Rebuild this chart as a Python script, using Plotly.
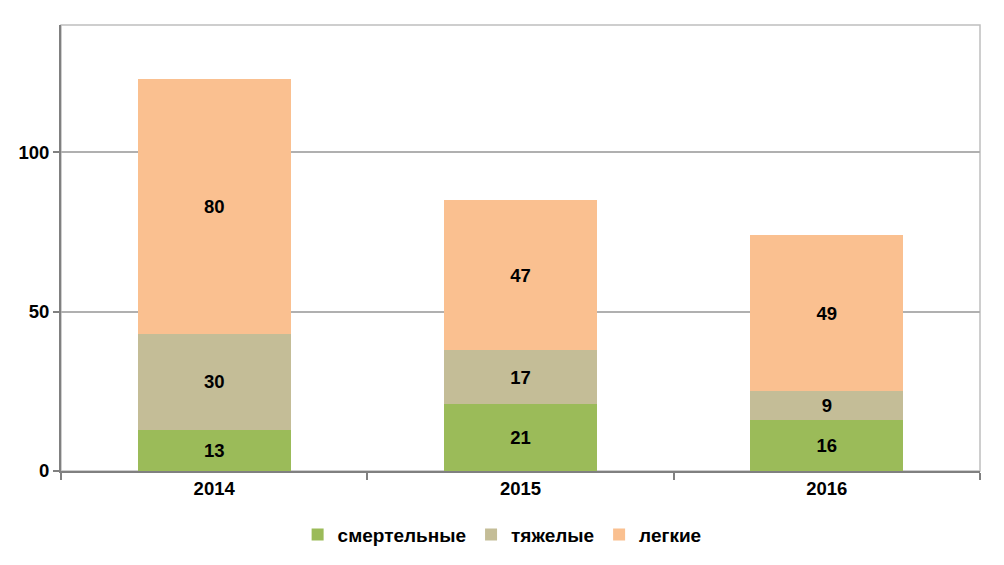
import plotly.graph_objects as go

years = ["2014", "2015", "2016"]
fatal = [13, 21, 16]
severe = [30, 17, 9]
light = [80, 47, 49]

series = [
    ("смертельные", fatal, "#9BBB59"),
    ("тяжелые", severe, "#C4BD97"),
    ("легкие", light, "#FAC090"),
]

bold = dict(family="Liberation Sans", size=18.5, color="#000000", weight="bold")

fig = go.Figure()
for name, vals, color in series:
    fig.add_trace(go.Bar(
        x=years, y=vals, name=name,
        marker=dict(color=color, line=dict(width=0)),
        text=vals, textposition="inside", insidetextanchor="middle",
        textfont=bold, textangle=0,
    ))

# page body has an 8px margin, so the figure is a bit smaller and shifted
fig.update_layout(
    barmode="stack",
    bargap=0.5,
    width=996, height=557,
    margin=dict(l=53, r=24, t=17, b=91),
    plot_bgcolor="white",
    paper_bgcolor="white",
    font=bold,
    legend=dict(
        orientation="h", x=0.48, xanchor="center", y=-0.1425, yanchor="middle",
        font=dict(family="Liberation Sans", size=19, color="#000000", weight="bold"),
        traceorder="normal", itemwidth=30,
    ),
    shapes=[dict(
        type="rect", xref="paper", yref="paper", x0=0, x1=1, y0=0, y1=1,
        line=dict(color="#BFBFBF", width=1.5), layer="below",
    )],
)

fig.update_xaxes(
    automargin=False,
    showline=True, linecolor="#808080", linewidth=2,
    ticks="outside", tickson="boundaries", ticklen=7, tickcolor="#808080",
    tickwidth=2, showgrid=False, tickfont=bold,
)
fig.update_yaxes(
    automargin=False,
    range=[0, 140], dtick=50, tick0=0,
    showline=True, linecolor="#808080", linewidth=2,
    ticks="outside", ticklen=6, tickcolor="#808080", tickwidth=2,
    showgrid=True, gridcolor="#B0B0B0", gridwidth=1.5,
    zeroline=False, tickfont=bold,
)

fig.write_html("out.html")
